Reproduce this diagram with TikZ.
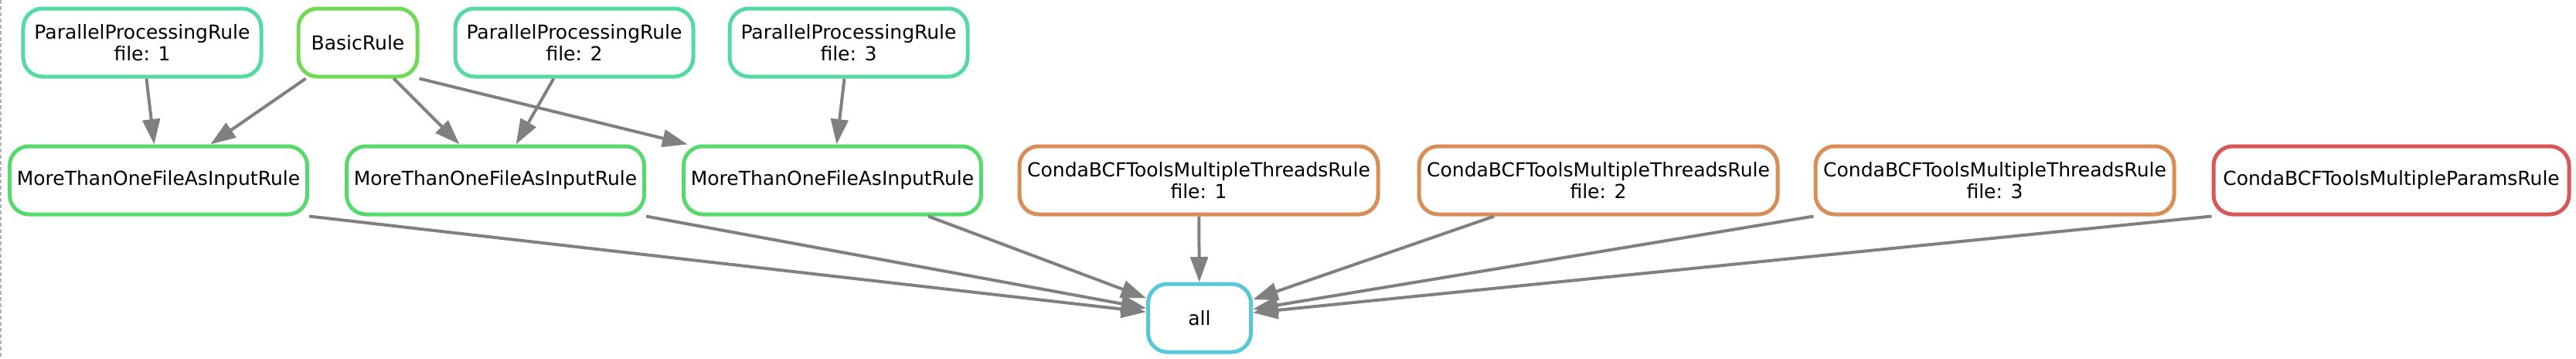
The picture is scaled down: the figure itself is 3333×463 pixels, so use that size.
\documentclass[tikz,border=0pt]{standalone}
\usepackage{fontspec}
\setmainfont{DejaVu Sans}
\usepackage{xcolor}
\definecolor{pprgreen}{RGB}{87,217,163}
\definecolor{basiclime}{RGB}{114,217,87}
\definecolor{mtogreen}{RGB}{87,217,112}
\definecolor{cbtorange}{RGB}{217,141,87}
\definecolor{cbpred}{RGB}{217,87,87}
\definecolor{allcyan}{RGB}{87,200,217}
\definecolor{edgegrey}{RGB}{128,128,128}
\usetikzlibrary{arrows.meta}
\tikzset{
  %% rule nodes
  rulebox/.style={draw, line width=2pt, rounded corners=10pt, fill=white,
    inner xsep=2pt, inner ysep=0pt, minimum height=35.2pt, align=center,
    font=\fontsize{10pt}{11.2pt}\selectfont},
  pprbox/.style={rulebox, draw=pprgreen, minimum width=123.2pt},
  mtobox/.style={rulebox, draw=mtogreen, minimum width=154pt},
  cbtbox/.style={rulebox, draw=cbtorange, minimum width=185.6pt},
  %% dependency edges
  dep/.style={draw=edgegrey, line width=1.6pt,
    -{Triangle[length=13pt,width=9pt]}},
}
\begin{document}
\begin{tikzpicture}[x=0.4pt,y=-0.4pt]
  \useasboundingbox (0,0) rectangle (3333,463);
  \draw[black!30, line width=0.6pt, dash pattern=on 2pt off 1.2pt] (1,0) -- (1,463);
  %% top row
  \node[pprbox] (ppr1) at (184,55) {ParallelProcessingRule\\file: 1};
  \node[rulebox, draw=basiclime, minimum width=61.6pt] (basic) at (463,55) {BasicRule};
  \node[pprbox] (ppr2) at (743,55) {ParallelProcessingRule\\file: 2};
  \node[pprbox] (ppr3) at (1098,55) {ParallelProcessingRule\\file: 3};
  %% middle row
  \node[mtobox] (mto1) at (205,233) {MoreThanOneFileAsInputRule};
  \node[mtobox] (mto2) at (641,233) {MoreThanOneFileAsInputRule};
  \node[mtobox] (mto3) at (1077,233) {MoreThanOneFileAsInputRule};
  \node[cbtbox] (cbt1) at (1551,233) {CondaBCFToolsMultipleThreadsRule\\file: 1};
  \node[cbtbox] (cbt2) at (2068,233) {CondaBCFToolsMultipleThreadsRule\\file: 2};
  \node[cbtbox] (cbt3) at (2581,233) {CondaBCFToolsMultipleThreadsRule\\file: 3};
  \node[rulebox, draw=cbpred, minimum width=184pt] (cbp) at (3094,233) {CondaBCFToolsMultipleParamsRule};
  %% target
  \node[rulebox, draw=allcyan, minimum width=53.2pt] (all) at (1552,411) {all};
  %% edges
  \draw[dep] (ppr1) -- (mto1);
  \draw[dep] (basic) -- (mto1);
  \draw[dep] (basic) -- (mto2);
  \draw[dep] (ppr2) -- (mto2);
  \draw[dep] (basic.south east) -- ([xshift=3pt]mto3.north west);
  \draw[dep] (ppr3) -- (mto3);
  \draw[dep] (mto1.south east) -- (all);
  \draw[dep] (mto2.south east) -- (all);
  \draw[dep] (mto3) -- (all);
  \draw[dep] (cbt1) -- (all);
  \draw[dep] (cbt2) -- (all);
  \draw[dep] (cbt3.south west) -- (all);
  \draw[dep] (cbp.south west) -- (all);
\end{tikzpicture}
\end{document}
